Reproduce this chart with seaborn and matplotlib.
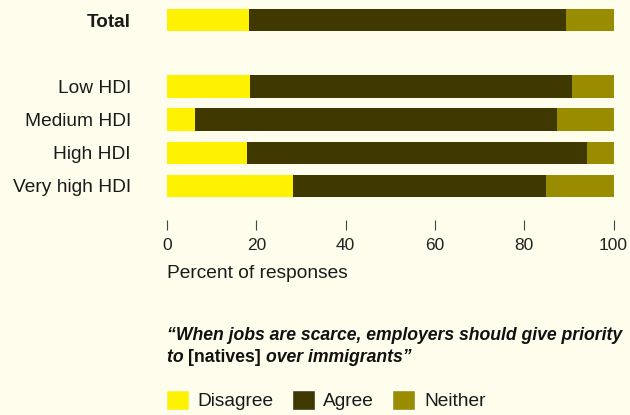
import pandas as pd
import matplotlib.pyplot as plt
import seaborn as sns
from matplotlib.patches import Patch

categories = ["Total", "Low HDI", "Medium HDI", "High HDI", "Very high HDI"]
disagree = [18.4, 18.6, 6.2, 17.9, 28.2]
agree = [71.0, 72.1, 81.1, 76.2, 56.7]
neither = [10.6, 9.3, 12.7, 5.9, 15.1]

order = ["Total", " ", "Low HDI", "Medium HDI", "High HDI", "Very high HDI"]

bg = "#FFFDEC"
col_dis = "#FFF200"
col_agr = "#3F3800"
col_nei = "#9A8C00"

df = pd.DataFrame({"group": categories, "Disagree": disagree,
                   "Agree": agree, "Neither": neither})
# running sums for stacking
df["s1"] = df["Disagree"]
df["s2"] = df["Disagree"] + df["Agree"]
df["s3"] = df["s2"] + df["Neither"]

sns.set_style("white")
plt.rcParams["font.family"] = ["Liberation Sans", "DejaVu Sans"]

fig = plt.figure(figsize=(6.3, 4.15), dpi=100, facecolor=bg)
ax = fig.add_axes([167 / 630, 1 - 202.5 / 415, (613.5 - 167) / 630, 199 / 415])
ax.set_facecolor(bg)

for col, c in [("s3", col_nei), ("s2", col_agr), ("s1", col_dis)]:
    sns.barplot(data=df, x=col, y="group", order=order, color=c,
                width=0.67, orient="h", ax=ax, saturation=1, linewidth=0)

ax.set_xlim(0, 100)
ax.set_ylim(5.5, -0.5)
ax.set_xlabel("")
ax.set_ylabel("")
sns.despine(ax=ax, left=True, bottom=True)
ax.spines["bottom"].set_position(("outward", 12.6))
ax.set_xticks([0, 20, 40, 60, 80, 100])
ax.tick_params(axis="x", bottom=True, direction="out", length=7.2, width=0.8,
               color="#444444", pad=5.5, labelsize=12.5, labelcolor="#222222")
ax.tick_params(axis="y", left=False, length=0, pad=26, labelsize=13.8,
               labelcolor="#1a1a1a")
for lab in ax.get_yticklabels():
    if lab.get_text() == "Total":
        lab.set_fontweight("bold")
        lab.set_fontsize(13.6)

fig.text(167 / 630, 1 - 274 / 415, "Percent of responses", fontsize=13.8,
         color="#1a1a1a", va="center", ha="left")

# quoted question, mixed styles
t1 = fig.text(167 / 630, 1 - 335 / 415,
              "\u201cWhen jobs are scarce, employers should give priority",
              fontsize=12.7, fontweight="bold", fontstyle="italic",
              va="center", ha="left", color="#111111")
t2 = fig.text(167 / 630, 1 - 357 / 415, "to ", fontsize=12.7, fontweight="bold",
              fontstyle="italic", va="center", ha="left", color="#111111")
t3 = ax.annotate("[natives] ", xy=(1, 0), xycoords=t2, va="bottom", ha="left",
                 fontsize=12.7, fontweight="bold", color="#111111")
t4 = ax.annotate("over immigrants\u201d", xy=(1, 0), xycoords=t3, va="bottom",
                 ha="left", fontsize=12.7, fontweight="bold", fontstyle="italic",
                 color="#111111")

handles = [Patch(facecolor=col_dis, label="Disagree"),
           Patch(facecolor=col_agr, label="Agree"),
           Patch(facecolor=col_nei, label="Neither")]
fig.legend(handles=handles, loc="center left", ncol=3, frameon=False,
           bbox_to_anchor=(158 / 630, 1 - 400 / 415), fontsize=13.8,
           handlelength=1.2, handleheight=1.2, handletextpad=0.45,
           columnspacing=0.95, borderaxespad=0, labelcolor="#1a1a1a")

fig.savefig("out.png", dpi=100, facecolor=bg)
